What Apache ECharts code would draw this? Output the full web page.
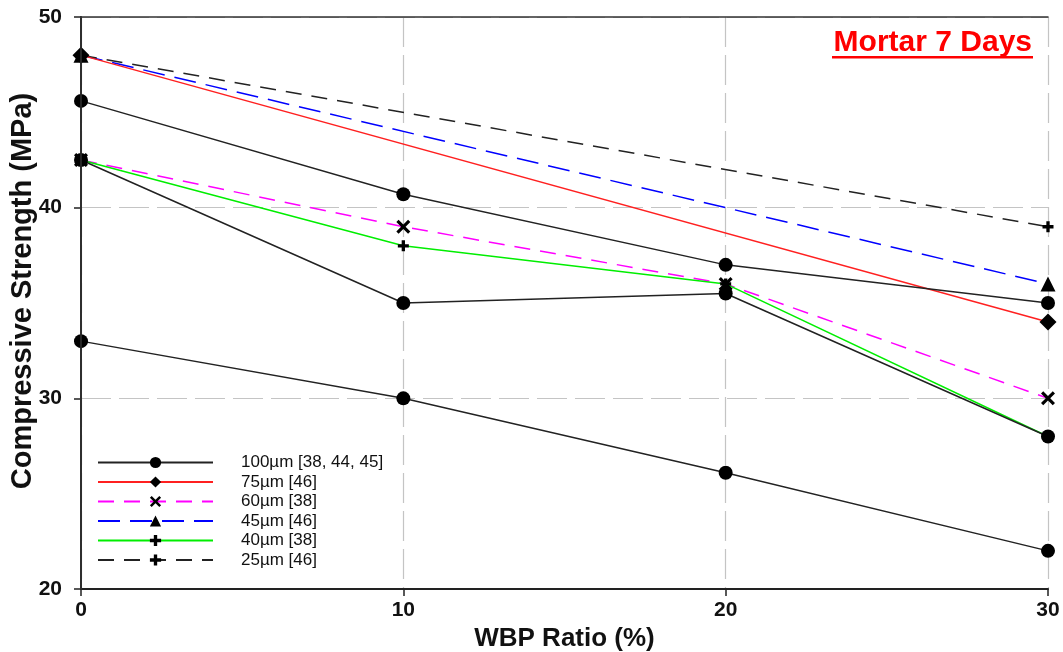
<!DOCTYPE html>
<html>
<head>
<meta charset="utf-8">
<script src="https://cdn.jsdelivr.net/npm/echarts@6/dist/echarts.min.js"></script>
<style>html,body{margin:0;padding:0;background:#fff}#c{width:1063px;height:652px}</style>
</head>
<body>
<div id="c"></div>
<script>
// ---- data ----
const wbpRatio = [0, 10, 20, 30];
const yTicks = [20, 30, 40, 50];
const title = 'Mortar 7 Days';
const xName = 'WBP Ratio (%)';
const yName = 'Compressive Strength (MPa)';
const names = ['100µm [38, 44, 45]', '75µm [46]', '60µm [38]', '45µm [46]', '40µm [38]', '25µm [46]'];
const s100a = [45.6, 40.7, 37.0, 35.0];
const s100b = [42.5, 35.0, 35.5, 28.0];
const s100c = [33.0, 30.0, 26.1, 22.0];
const s75 = [48.0, null, null, 34.0];
const s60 = [42.5, 39.0, 36.0, 30.0];
const s45 = [48.0, null, null, 36.0];
const s40 = [42.5, 38.0, 36.0, 28.0];
const s25 = [48.0, null, null, 39.0];

const pairs = v => wbpRatio.map((x, i) => [x, v[i]]);
const PLUS = 'path://M3.5,0H6.5V3.5H10V6.5H6.5V10H3.5V6.5H0V3.5H3.5Z';
const CROSS = 'path://M1.6,0L5,3.4L8.4,0L10,1.6L6.6,5L10,8.4L8.4,10L5,6.6L1.6,10L0,8.4L3.4,5L0,1.6Z';

function mk(name, data, color, type, symbol, size, z) {
  return {
    name: name, type: 'line', data: pairs(data), connectNulls: true, z: z || 2,
    symbol: symbol, symbolSize: size, showSymbol: true,
    lineStyle: { color: color, width: 1.5, type: type },
    itemStyle: { color: '#000', borderWidth: 0 },
    emphasis: { disabled: true }, animation: false
  };
}

const font = 'Liberation Sans';
const frameAxis = {
  axisLine: { show: true, lineStyle: { color: '#333', width: 1.5 } },
  axisTick: { show: false }, axisLabel: { show: false }, splitLine: { show: false }, z: 10
};

const chart = echarts.init(document.getElementById('c'), null, { renderer: 'canvas' });
chart.setOption({
  backgroundColor: '#fff',
  animation: false,
  grid: { left: 81, right: 15, top: 17, bottom: 63, outerBoundsMode: 'none', containLabel: false },
  xAxis: [{
    type: 'value', min: 0, max: 30, interval: 10,
    name: xName, nameLocation: 'middle', nameGap: 33,
    nameTextStyle: { fontFamily: font, fontWeight: 'bold', fontSize: 26, color: '#111' },
    axisLine: { show: true, lineStyle: { color: '#222', width: 2 } },
    axisTick: { show: true, length: 7, lineStyle: { color: '#222', width: 1.5 } },
    axisLabel: { margin: 11, fontFamily: font, fontWeight: 'bold', fontSize: 21, color: '#111' },
    splitLine: { show: true, lineStyle: { color: '#c4c4c4', width: 1.2, type: [30, 8] } }
  }, Object.assign({ type: 'value', min: 0, max: 30, interval: 10, position: 'top' }, frameAxis)],
  yAxis: [{
    type: 'value', min: 20, max: 50, interval: 10,
    name: yName, nameLocation: 'middle', nameGap: 44, nameMoveOverlap: false,
    nameTextStyle: { fontFamily: font, fontWeight: 'bold', fontSize: 29, color: '#111', padding: [0, 0, 0, 24] },
    axisLine: { show: true, lineStyle: { color: '#222', width: 2 } },
    axisTick: { show: true, length: 7, lineStyle: { color: '#222', width: 1.5 } },
    axisLabel: { margin: 19, fontFamily: font, fontWeight: 'bold', fontSize: 21, color: '#111',
      formatter: v => yTicks.includes(v) ? String(v) : '' },
    splitLine: { show: true, lineStyle: { color: '#c4c4c4', width: 1.2, type: [30, 8] } }
  }, Object.assign({ type: 'value', min: 20, max: 50, interval: 10, position: 'right' }, frameAxis)],
  legend: {
    orient: 'vertical', left: 92, top: 449,
    itemWidth: 115, itemHeight: 14, itemGap: 2.5,
    data: names,
    textStyle: { fontFamily: font, fontSize: 17, lineHeight: 17, color: '#111', padding: [0, 0, 0, 23] }
  },
  graphic: [
    { type: 'text', right: 31, top: 28, style: { text: title, fill: '#ff0000', font: 'bold 30px "Liberation Sans"' } },
    { type: 'rect', shape: { x: 832, y: 56, width: 201, height: 2.5 }, style: { fill: '#ff0000' } }
  ],
  series: [
    mk(names[0], s100a, '#222', 'solid', 'circle', 14, 4),
    mk(names[0], s100b, '#222', 'solid', 'circle', 14, 4),
    mk(names[0], s100c, '#222', 'solid', 'circle', 14, 4),
    mk(names[1], s75, '#ff2020', 'solid', 'diamond', 17, 3),
    mk(names[2], s60, '#ff00ff', [16, 10], CROSS, 14),
    mk(names[3], s45, '#0000ff', [22, 10], 'triangle', 15),
    mk(names[4], s40, '#00ee00', 'solid', PLUS, 11),
    mk(names[5], s25, '#222', [16, 10], PLUS, 11)
  ]
});
</script>
</body>
</html>
